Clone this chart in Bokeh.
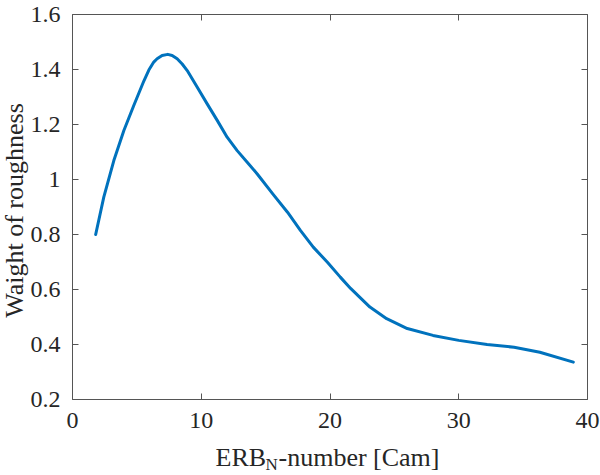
import math
from bokeh.plotting import figure
from bokeh.models import Range1d, LinearAxis, FixedTicker, Label, CustomJSTickFormatter
from bokeh.embed import file_html
from bokeh.resources import INLINE

# Data
erb = [1.8, 2.43, 3.21, 3.99, 4.76, 5.54, 5.93, 6.31, 6.57, 6.96, 7.4, 7.74,
       8.13, 8.52, 8.91, 9.68, 10.46, 11.24, 12.01, 12.79, 13.57, 14.35, 15.6,
       16.7, 17.7, 18.7, 19.8, 20.8, 21.6, 23.1, 24.4, 26.0, 28.0, 30.0, 32.2,
       34.3, 36.3, 38.9]
weight = [0.80, 0.936, 1.069, 1.178, 1.269, 1.358, 1.398, 1.427, 1.439, 1.451,
          1.455, 1.451, 1.439, 1.42, 1.396, 1.336, 1.275, 1.215, 1.154, 1.105,
          1.063, 1.02, 0.945, 0.881, 0.815, 0.754, 0.699, 0.645, 0.604, 0.536,
          0.494, 0.458, 0.433, 0.415, 0.40, 0.39, 0.372, 0.336]
x_ticks = [0, 10, 20, 30, 40]
y_ticks = [0.2, 0.4, 0.6, 0.8, 1.0, 1.2, 1.4, 1.6]
y_tick_labels = {0.2: "0.2", 0.4: "0.4", 0.6: "0.6", 0.8: "0.8", 1.0: "1",
                 1.2: "1.2", 1.4: "1.4", 1.6: "1.6"}
x_min, x_max = 0, 40
y_min, y_max = 0.2, 1.6

FONT = "Liberation Serif"
TXT = "#262626"
LINE = "#555555"
TICK_SIZE = "24px"
LABEL_SIZE = "26px"

W, H = 600, 475
# axes box in the window (pixels): left, right, top, bottom
BL, BR, BT, BB = 72, 587, 14, 399
sx = (x_max - x_min) / (BR - BL)
sy = (y_max - y_min) / (BB - BT)

p = figure(width=W, height=H, output_backend="svg", toolbar_location=None,
           x_axis_location=None, y_axis_location=None,
           x_range=Range1d(x_min - BL * sx, x_max + (W - BR) * sx),
           y_range=Range1d(y_min - (H - BB) * sy, y_max + BT * sy),
           min_border=0, min_border_left=0, min_border_right=0,
           min_border_top=0, min_border_bottom=0)
p.background_fill_color = "white"
p.border_fill_color = "white"
p.grid.visible = False
p.outline_line_color = None

p.line(erb, weight, line_color="#0072BD", line_width=3, line_join="round",
       line_cap="round")

empty = CustomJSTickFormatter(code="return ''")

def make_axis(ticks, loc, bounds, labels=True):
    ax = LinearAxis(ticker=FixedTicker(ticks=ticks), fixed_location=loc, bounds=bounds)
    ax.axis_line_color = LINE
    ax.major_tick_line_color = LINE
    ax.major_tick_in = 6
    ax.major_tick_out = 0
    ax.minor_tick_line_color = None
    ax.major_label_text_font = FONT
    ax.major_label_text_font_size = TICK_SIZE
    ax.major_label_text_color = TXT
    if not labels:
        ax.formatter = empty
        ax.major_label_standoff = 0
    return ax

xa = make_axis(x_ticks, y_min, (x_min, x_max))
xa.major_label_standoff = 13
p.add_layout(xa, "below")

ya = make_axis(y_ticks, x_min, (y_min, y_max))
ya.major_label_overrides = y_tick_labels
ya.major_label_standoff = 12
p.add_layout(ya, "left")

top = make_axis(x_ticks, y_max, (x_min, x_max), labels=False)
p.add_layout(top, "above")
right = make_axis(y_ticks, x_max, (y_min, y_max), labels=False)
p.add_layout(right, "right")

lab_kw = dict(x_units="screen", y_units="screen", text_font=FONT,
              text_color=TXT, text_baseline="alphabetic")
# y axis label
p.add_layout(Label(x=14, y=H - 210, text="Waight of roughness", angle=math.pi / 2,
                   text_align="center", text_font_size=LABEL_SIZE, **lab_kw))
# x axis label with subscript N
p.add_layout(Label(x=215, y=H - 457, text="ERB", text_align="left",
                   text_font_size=LABEL_SIZE, **lab_kw))
p.add_layout(Label(x=265, y=H - 464, text="N", text_align="left",
                   text_font_size="17px", **lab_kw))
p.add_layout(Label(x=278, y=H - 457, text="-number [Cam]", text_align="left",
                   text_font_size=LABEL_SIZE, **lab_kw))

open("out.html", "w").write(file_html(p, INLINE))
